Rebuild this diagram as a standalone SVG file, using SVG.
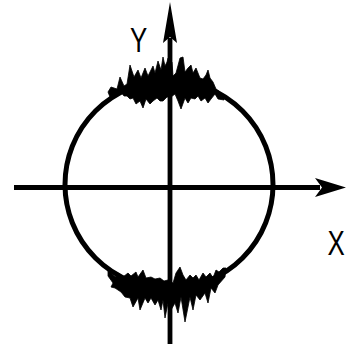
<svg xmlns="http://www.w3.org/2000/svg" width="347" height="344" viewBox="0 0 347 344">
<style>
.ax{stroke:#000;stroke-width:4.8;fill:none}
.circ{stroke:#000;stroke-width:5;fill:none}
.noise{fill:#000;stroke:#000;stroke-width:0.8;stroke-linejoin:miter}
.lbl{font-family:"Liberation Sans",Arial,sans-serif;font-size:35px;fill:#000}
</style>
<rect width="347" height="344" fill="#fff"/>
<g id="circle">
<circle class="circ" cx="169" cy="184.5" r="104"/>
</g>
<g id="noise-top">
<polygon class="noise" points="108,92 111,87 117,89 120,77 124,86 127,84 130,65 134,77 138,70 141,78 145,68 148,76 153,66 155,73 158,61 161,70 163,57 165,66 167,62 168,58 172,62 173,76 176,73 180,58 183,57 185,72 188,68 191,65 193,73 196,68 200,78 203,79 206,75 208,70 210,78 213,82 216,89 220,92 224,96 224,100 218,99 215,94 211,99 208,103 205,98 201,101 198,96 195,99 191,98 188,103 185,98 181,109 178,101 175,94 171,97 167,97 163,101 160,101 157,98 153,101 150,104 146,99 143,108 140,101 136,104 133,98 130,99 127,96 124,96 121,92 116,96 110,97"/>
</g>
<g id="noise-bottom">
<polygon class="noise" points="108,270 113,275 116,277 118,273 123,277 128,273 131,276 136,272 138,277 143,270 146,278 151,277 155,279 160,278 164,281 168,280 171,282 173,283 176,273 180,267 183,275 186,280 190,275 193,278 196,275 199,280 203,273 206,277 210,273 213,278 216,270 219,272 223,268 226,268 225,277 218,285 215,293 211,288 208,303 205,293 200,300 196,295 193,310 190,297 185,322 181,297 178,313 175,303 171,310 168,303 165,318 163,300 161,310 158,300 155,305 151,298 148,303 145,298 140,310 138,298 133,307 130,298 125,297 121,292 115,288 111,287 113,283 108,276"/>
</g>
<g id="connectors">
<line class="ax" x1="14" y1="187.5" x2="320" y2="187.5"/>
<polygon points="346,187.5 315,178 322,187.5 315,197" fill="#000"/>
<line class="ax" x1="170" y1="344" x2="170" y2="38"/>
<polygon points="170,2 163,43 170,37 177,43" fill="#000"/>
</g>
<g id="label-y">
<text class="lbl" transform="translate(130,52) scale(0.74,1)">Y</text>
</g>
<g id="label-x">
<text class="lbl" transform="translate(327.5,255) scale(0.74,1)">X</text>
</g>
</svg>
